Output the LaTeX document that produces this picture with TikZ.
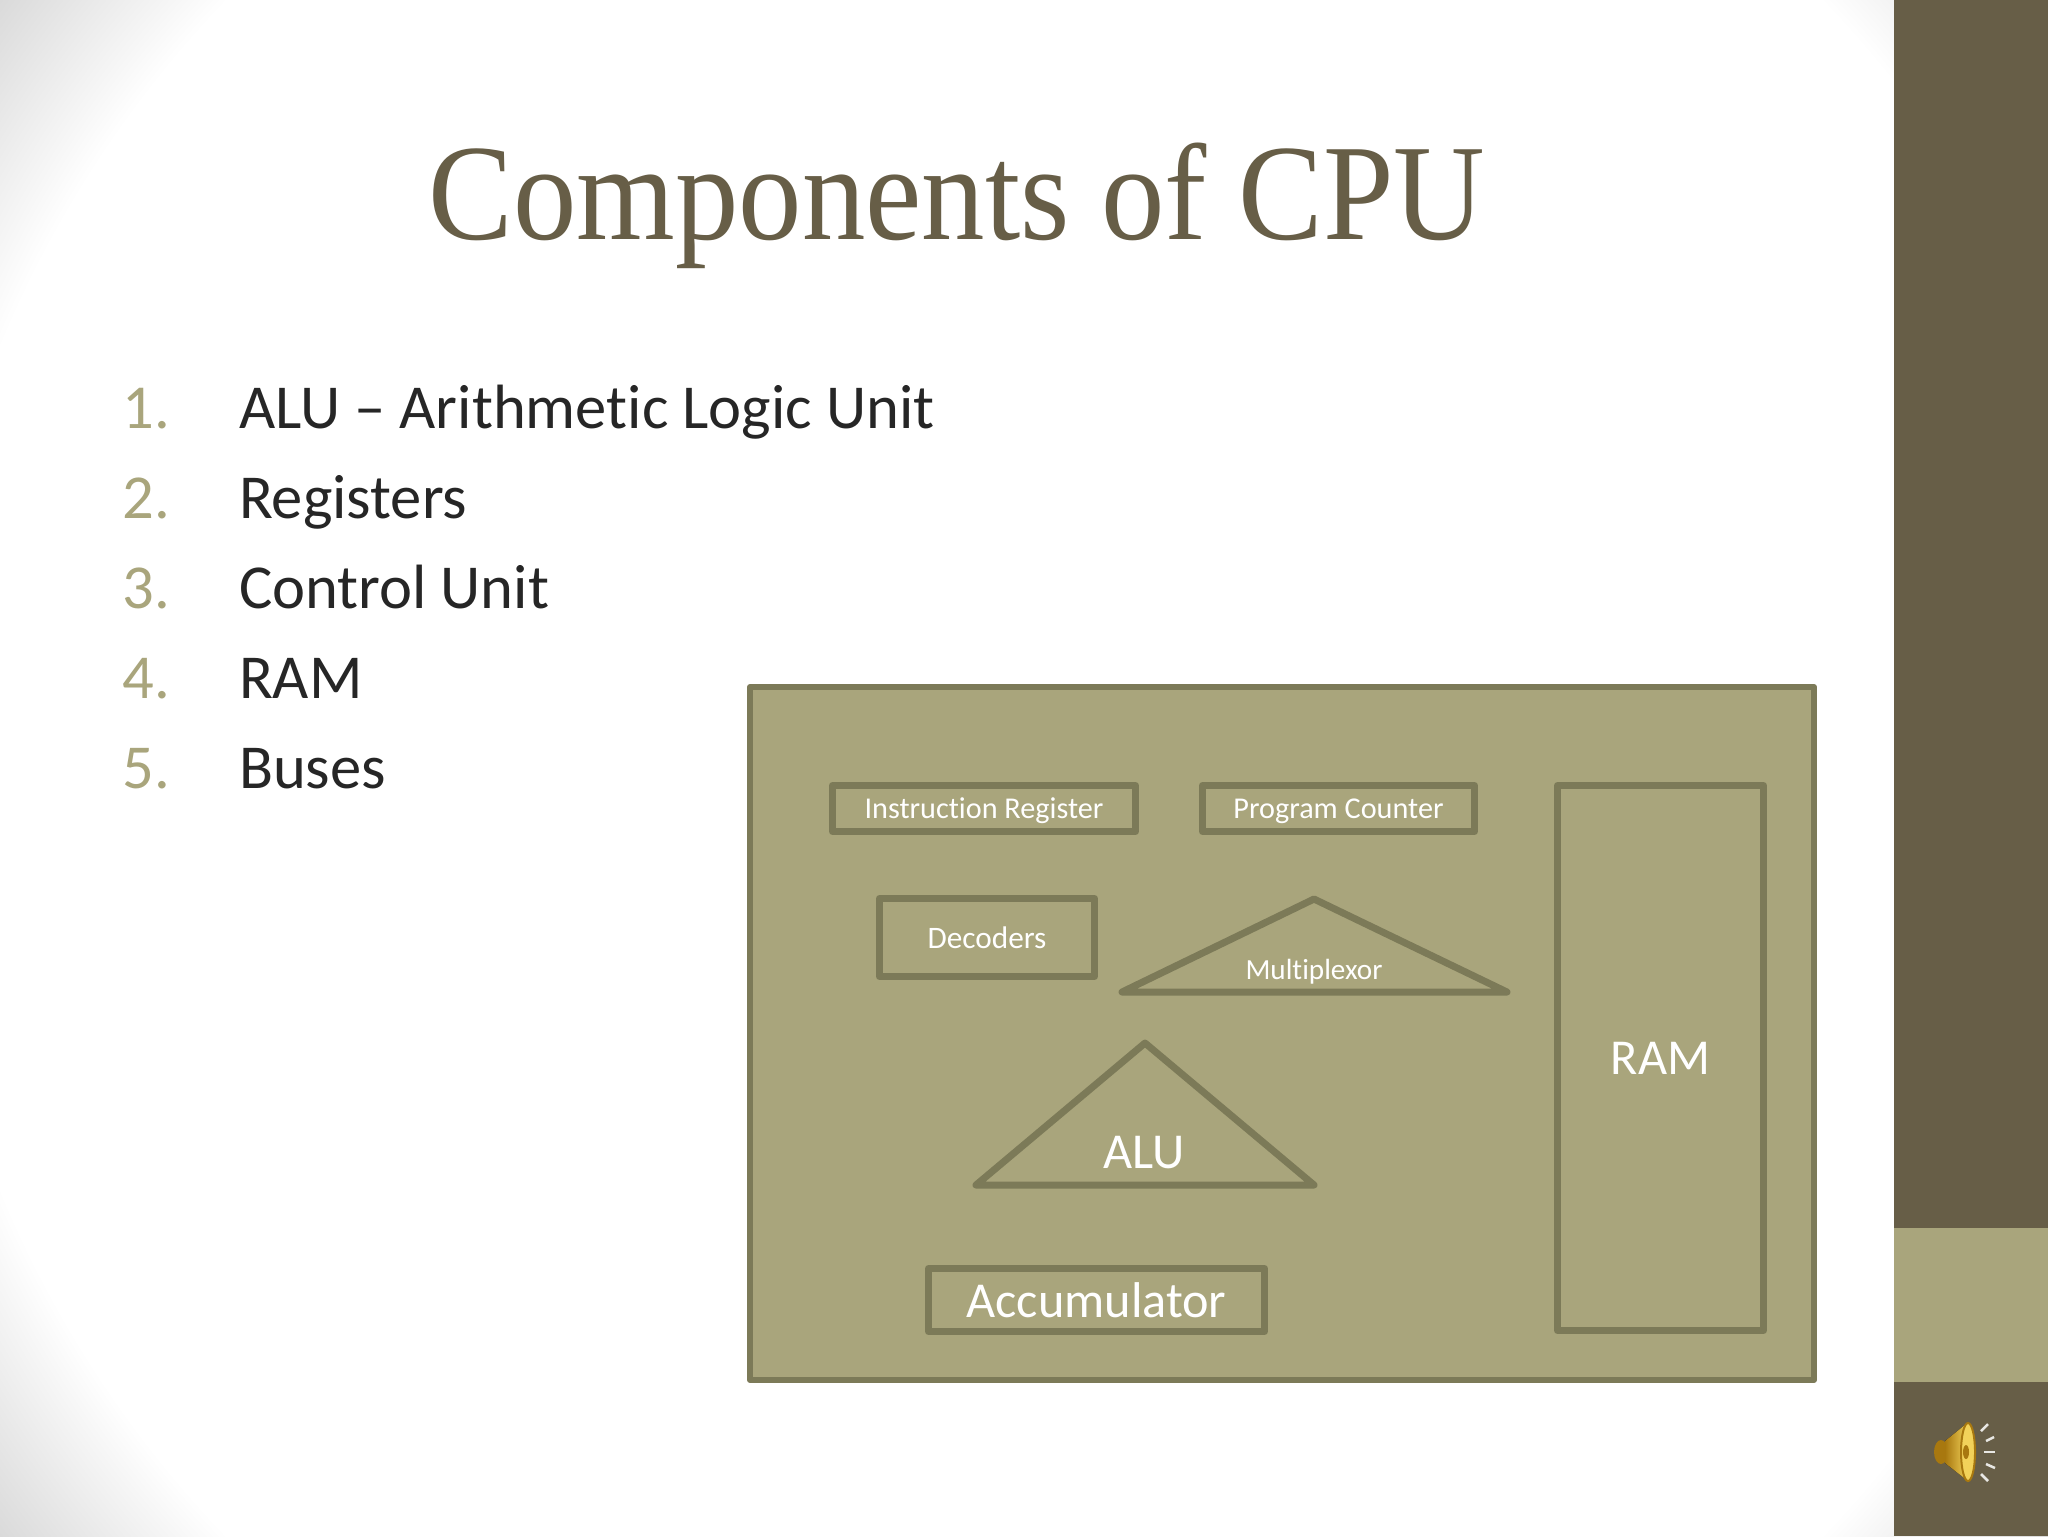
\documentclass[tikz,border=0pt]{standalone}
\usepackage{fontspec}
\setmainfont[Ligatures=CommonOff]{Carlito}
\newfontfamily\titlefont[FakeStretch=0.925]{Liberation Serif}
\usetikzlibrary{positioning}

\definecolor{bandDark}{HTML}{675E47}
\definecolor{bandLight}{HTML}{A9A57C}
\definecolor{boxEdge}{HTML}{7C7A58}
\definecolor{itemText}{HTML}{262626}
\definecolor{cornerGray}{HTML}{DADADA}
\definecolor{fadeGray}{HTML}{F6F6F6}
\definecolor{goldLight}{HTML}{F2D25A}
\definecolor{goldDark}{HTML}{A8780F}

\pgfdeclareradialshading{vignette}{\pgfpoint{0bp}{0bp}}{color(0bp)=(white); color(21.6bp)=(white); color(22.4bp)=(fadeGray); color(25bp)=(cornerGray); color(50bp)=(cornerGray)}

\tikzset{
  num/.style={anchor=north west,inner sep=0pt,outer sep=0pt,text width=11.65mm,text height=6.3mm,text depth=2.7mm,
    text=bandLight,font=\fontsize{17.8}{20}\selectfont},
  item/.style={anchor=north west,inner sep=0pt,outer sep=0pt,text height=6.3mm,text depth=2.7mm,
    text=itemText,font=\fontsize{17.8}{20}\selectfont},
  box/.style={draw=boxEdge,line width=0.7mm,line join=round,inner sep=0pt,outer sep=0pt,text=white,align=center},
  tri/.style={draw=boxEdge,line width=0.7mm,line join=round},
  small/.style={font=\fontsize{8.6}{10}\selectfont},
  big/.style={font=\fontsize{14.3}{17}\selectfont},
  ray/.style={draw=white!85!bandDark,line width=0.25mm},
}

\begin{document}
\begin{tikzpicture}[x=0.1mm,y=-0.1mm]

\useasboundingbox (0,0) rectangle (2048,1536);
\clip (0,0) rectangle (2048,1536);

% slide background

\path[shading=vignette] (-256,-512) rectangle (2304,2048);
\fill[bandDark] (1894,0) rectangle (2048,1536);
\fill[bandLight] (1894,1228) rectangle (2048,1382);

% title

\node[anchor=base,inner sep=0pt,text=bandDark,font=\titlefont\fontsize{39}{42}\selectfont] (title) at (957,239) {Components of CPU};

% list

\node[num] (n1) at (122.5,365) {1.};
\node[num, below=0mm of n1] (n2) {2.};
\node[num, below=0mm of n2] (n3) {3.};
\node[num, below=0mm of n3] (n4) {4.};
\node[num, below=0mm of n4] (n5) {5.};
\node[item, right=0mm of n1] (alu item) {ALU -- Arithmetic Logic Unit};
\node[item, right=0mm of n2] (reg item) {Registers};
\node[item, right=0mm of n3] (cu item) {Control Unit};
\node[item, right=0mm of n4] (ram item) {RAM};
\node[item, right=0mm of n5] (bus item) {Buses};

% cpu frame

\node[box,fill=bandLight,line width=0.6mm,anchor=north west,minimum width=106.4mm,minimum height=69.3mm] (frame) at (750,687) {};

% registers

\node[box,small,text depth=0pt,minimum width=30.3mm,minimum height=4.6mm, below right=9.85mm and 8.25mm of frame.north west] (ir) {Instruction Register};
\node[box,small,text depth=0pt,minimum width=27.2mm,minimum height=4.6mm, right=6.7mm of ir] (pc) {Program Counter};
\node[box,font=\fontsize{8.9}{10}\selectfont,minimum width=21.5mm,minimum height=7.8mm, below right=6.7mm and 4.7mm of ir.south west] (dec) {Decoders};
\node[box,big,minimum width=33.6mm,minimum height=6.3mm, below right=29.2mm and 4.9mm of dec.south west] (acc) {Accumulator};
\node[box,big,minimum width=20.6mm,minimum height=54.5mm, below left=9.85mm and 5.05mm of frame.north east] (ram) {RAM};

% triangles

\coordinate (mux top) at (1314,899);
\coordinate (mux left) at (1122,992);
\coordinate (mux right) at (1507,992);
\draw[tri] (mux top) -- (mux left) -- (mux right) -- cycle;
\node[text=white,inner sep=0pt,font=\fontsize{8.3}{10}\selectfont] (mux label) at (1314,972) {Multiplexor};

\coordinate (alu top) at (1145,1043);
\coordinate (alu left) at (976,1185);
\coordinate (alu right) at (1314,1185);
\draw[tri] (alu top) -- (alu left) -- (alu right) -- cycle;
\node[text=white,big,inner sep=0pt] (alu label) at (1144,1153) {ALU};

% speaker

\fill[goldDark] (1941,1452) ellipse (7 and 12);
\fill[left color=goldDark,right color=goldLight] (1945,1441) -- (1966,1424) -- (1968,1481) -- (1945,1463) -- cycle;
\fill[goldLight,draw=goldDark,line width=0.2mm] (1968,1452) ellipse (7 and 29);
\fill[goldDark] (1966,1452) ellipse (3 and 7);
\draw[ray] (1981,1431) -- (1988,1424);
\draw[ray] (1986,1441) -- (1994,1437);
\draw[ray] (1984,1452) -- (1995,1452);
\draw[ray] (1986,1464) -- (1995,1468);
\draw[ray] (1981,1474) -- (1988,1481);
\end{tikzpicture}
\end{document}
